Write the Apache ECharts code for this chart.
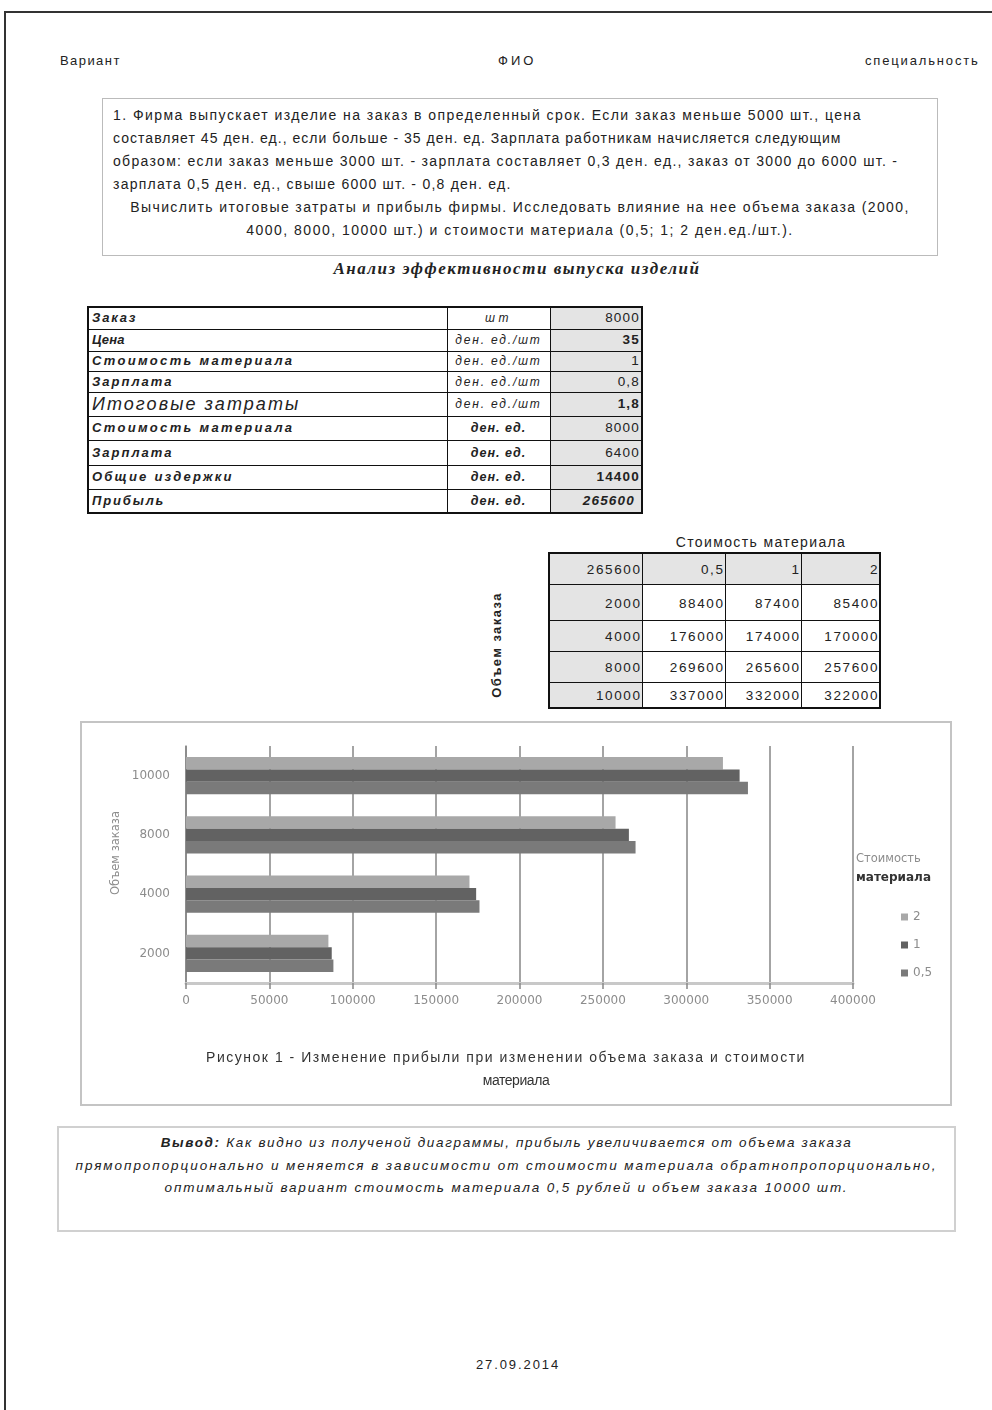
<!DOCTYPE html>
<html>
<head>
<meta charset="utf-8">
<script src="https://cdn.jsdelivr.net/npm/echarts@6/dist/echarts.min.js"></script>
<style>
  html,body{margin:0;padding:0;background:#fff;}
  body{width:992px;height:1410px;position:relative;overflow:hidden;font-family:"Liberation Sans",Arial,sans-serif;color:#222;}
  .t{position:absolute;white-space:nowrap;line-height:16px;}
  .f{display:inline-block;white-space:nowrap;}
  .box{position:absolute;box-sizing:border-box;}
  table{border-collapse:collapse;position:absolute;table-layout:fixed;}
  td{border:1.5px solid #111;padding:0 3px 0 3px;vertical-align:middle;white-space:nowrap;overflow:hidden;font-size:13px;line-height:14px;}
  #t1 td.l{font-weight:bold;font-style:italic;text-align:left;}
  #t1 td.u{font-style:italic;text-align:center;font-size:12px;}
  #t1 td.v{background:#e4e4e4;text-align:right;font-size:13.5px;letter-spacing:1.2px;padding-right:1px;}
  #t2 td{text-align:right;font-size:13.5px;letter-spacing:1.6px;padding:3px 0 0 0;}
  #t2 td.g{background:#e4e4e4;}
</style>
</head>
<body>
<div class="box" style="left:4px;top:11px;width:988px;height:2px;background:#333;"></div>
<div class="box" style="left:4px;top:11px;width:2px;height:1399px;background:#333;"></div>

<div class="t" style="left:60px;top:53px;font-size:13px;"><span class="f" data-w="61">Вариант</span></div>
<div class="t" style="left:498px;top:53px;font-size:13px;"><span class="f" data-w="38">ФИО</span></div>
<div class="t" style="left:865px;top:53px;font-size:13px;"><span class="f" data-w="115">специальность</span></div>

<div class="box" style="left:102px;top:98px;width:836px;height:158px;border:1px solid #bbb;"></div>
<div id="task"></div>

<div class="t" style="left:0;width:1034px;text-align:center;top:259px;font-family:'Liberation Serif',serif;font-style:italic;font-weight:bold;font-size:17px;line-height:19px;"><span class="f" data-w="367">Анализ эффективности выпуска изделий</span></div>

<table id="t1" style="left:87px;top:306px;width:554px;border:2px solid #111;"></table>

<div class="t" style="left:661px;width:200px;text-align:center;top:534px;font-size:14px;"><span class="f" data-w="170">Стоимость материала</span></div>
<table id="t2" style="left:548px;top:552px;width:331px;border:2px solid #111;"></table>
<div class="t" style="left:437px;top:637px;width:120px;text-align:center;font-size:13px;font-weight:bold;transform:rotate(-90deg);"><span class="f" data-w="106">Объем заказа</span></div>

<div id="chart" style="position:absolute;left:80px;top:721px;width:872px;height:385px;"></div>
<div class="box" style="left:80px;top:721px;width:872px;height:385px;border:2px solid #c4c4c4;pointer-events:none;"></div>
<div id="caption"></div>

<div class="box" style="left:57px;top:1126px;width:899px;height:106px;border:2px solid #d0d0d0;"></div>
<div id="concl"></div>

<div class="t" style="left:0;width:1036px;text-align:center;top:1357px;font-size:13px;"><span class="f" data-w="84">27.09.2014</span></div>

<script>
// ---- data ----
var orderVolumes = ['2000', '4000', '8000', '10000'];
var materialCosts = ['0,5', '1', '2'];
var profit05 = [88400, 176000, 269600, 337000];
var profit1  = [87400, 174000, 265600, 332000];
var profit2  = [85400, 170000, 257600, 322000];
var xTicks = [0, 50000, 100000, 150000, 200000, 250000, 300000, 350000, 400000];

var t1Labels = ['Заказ', 'Цена', 'Стоимость материала', 'Зарплата', 'Итоговые затраты', 'Стоимость материала', 'Зарплата', 'Общие издержки', 'Прибыль'];
var t1Units  = ['шт', 'ден. ед./шт', 'ден. ед./шт', 'ден. ед./шт', 'ден. ед./шт', 'ден. ед.', 'ден. ед.', 'ден. ед.', 'ден. ед.'];
var t1Values = ['8000', '35', '1', '0,8', '1,8', '8000', '6400', '14400', '265600'];
var t2Corner = '265600';

var taskLines = [
  '1. Фирма выпускает изделие на заказ в определенный срок. Если заказ меньше 5000 шт., цена',
  'составляет 45 ден. ед., если больше - 35 ден. ед. Зарплата работникам начисляется следующим',
  'образом: если заказ меньше 3000 шт. - зарплата составляет 0,3 ден. ед., заказ от 3000 до 6000 шт. -',
  'зарплата 0,5 ден. ед., свыше 6000 шт. - 0,8 ден. ед.',
  'Вычислить итоговые затраты и прибыль фирмы. Исследовать влияние на нее объема заказа (2000,',
  '4000, 8000, 10000 шт.) и стоимости материала (0,5; 1; 2 ден.ед./шт.).'
];
var conclLines = [
  '<b>Вывод:</b> Как видно из полученой диаграммы, прибыль увеличивается от объема заказа',
  'прямопропорционально и меняется в зависимости от стоимости материала обратнопропорционально,',
  'оптимальный вариант стоимость материала 0,5 рублей и объем заказа 10000 шт.'
];
var captionLines = [
  'Рисунок 1 -  Изменение прибыли при изменении объема заказа  и стоимости',
  'материала'
];

// ---- document text ----
(function(){
  var taskW = [749, 729, 785, 399, 779, 547];
  var h = '';
  taskLines.forEach(function(s, i){
    var top = 107 + i * 23;
    if (i < 4) h += '<div class="t" style="left:113px;top:' + top + 'px;font-size:14px;"><span class="f" data-w="' + taskW[i] + '">' + s + '</span></div>';
    else h += '<div class="t" style="left:102px;width:836px;text-align:center;top:' + top + 'px;font-size:14px;"><span class="f" data-w="' + taskW[i] + '">' + s + '</span></div>';
  });
  document.getElementById('task').innerHTML = h;

  var concW = [692, 862, 684];
  var c = '';
  conclLines.forEach(function(s, i){
    var top = 1135 + i * 22.5;
    c += '<div class="t" style="left:57px;width:899px;text-align:center;top:' + top + 'px;font-size:13.5px;font-style:italic;"><span class="f" data-w="' + concW[i] + '">' + s + '</span></div>';
  });
  document.getElementById('concl').innerHTML = c;

  var capW = [603, 67];
  var capX = [80, 90];
  var cp = '';
  captionLines.forEach(function(s, i){
    cp += '<div class="t" style="left:' + capX[i] + 'px;width:852px;text-align:center;top:' + (1049 + i * 23) + 'px;font-size:14px;color:#333;"><span class="f" data-w="' + capW[i] + '">' + s + '</span></div>';
  });
  document.getElementById('caption').innerHTML = cp;

  var labW = [45, 33, 202, 82, 208, 202, 82, 142, 73];
  var rh = [22, 22, 20, 21, 24, 24, 25, 24, 24];
  var boldV = {1:1, 4:1, 7:1, 8:1};
  var r = '<colgroup><col style="width:359px"><col style="width:103px"><col style="width:92px"></colgroup>';
  t1Labels.forEach(function(lab, i){
    var ls = (i === 4) ? 'font-weight:normal;font-size:18px;line-height:19px;' : '';
    var us = (i >= 5) ? 'font-weight:bold;font-size:12.5px;' : '';
    var uw = (i === 0) ? 27 : (i < 5 ? 86 : 55);
    var vs = boldV[i] ? 'font-weight:bold;' : '';
    if (i === 8) vs += 'font-style:italic;padding-right:6px;';
    r += '<tr style="height:' + rh[i] + 'px"><td class="l" style="' + ls + '"><span class="f" data-w="' + labW[i] + '">' + lab + '</span></td>' +
         '<td class="u" style="' + us + '"><span class="f" data-w="' + uw + '">' + t1Units[i] + '</span></td>' +
         '<td class="v" style="' + vs + '">' + t1Values[i] + '</td></tr>';
  });
  document.getElementById('t1').innerHTML = r;

  var rh2 = [31, 36, 31, 31, 26];
  var t = '<colgroup><col style="width:93px"><col style="width:83px"><col style="width:76px"><col style="width:79px"></colgroup>';
  t += '<tr style="height:' + rh2[0] + 'px"><td class="g">' + t2Corner + '</td>';
  materialCosts.forEach(function(m){ t += '<td class="g">' + m + '</td>'; });
  t += '</tr>';
  orderVolumes.forEach(function(v, i){
    t += '<tr style="height:' + rh2[i + 1] + 'px"><td class="g">' + v + '</td><td>' + profit05[i] + '</td><td>' + profit1[i] + '</td><td>' + profit2[i] + '</td></tr>';
  });
  document.getElementById('t2').innerHTML = t;

  // stretch text to the widths it has on the page
  document.querySelectorAll('[data-w]').forEach(function(el){
    el.style.letterSpacing = '0px';
    var w = el.offsetWidth;
    var n = el.textContent.length;
    var target = +el.getAttribute('data-w');
    el.style.letterSpacing = ((target - w) / Math.max(1, n)).toFixed(3) + 'px';
  });
})();

// ---- chart ----
var chart = echarts.init(document.getElementById('chart'), null, {renderer: 'canvas'});
var font = '"DejaVu Sans", "Liberation Sans", sans-serif';
var option = {
  animation: false,
  textStyle: {fontFamily: font},
  grid: {left: 106, top: 25, width: 667, height: 237, containLabel: false},
  xAxis: {
    type: 'value', min: xTicks[0], max: xTicks[xTicks.length - 1], interval: xTicks[1] - xTicks[0],
    axisLine: {show: true, lineStyle: {color: '#c8c8c8', width: 3}},
    axisTick: {show: true, length: 6, lineStyle: {color: '#868686', width: 1.5}},
    axisLabel: {color: '#8c8c8c', fontSize: 12, margin: 12, fontFamily: font, formatter: function(v){ return String(v); }},
    splitLine: {show: true, lineStyle: {color: '#868686', width: 1.5}}
  },
  yAxis: {
    type: 'category', data: orderVolumes,
    axisLine: {show: true, lineStyle: {color: '#868686', width: 1.5}},
    axisTick: {show: false},
    axisLabel: {color: '#8c8c8c', fontSize: 12, margin: 16, fontFamily: font}
  },
  legend: {
    orient: 'vertical', left: 816, top: 185, itemWidth: 7, itemHeight: 7, itemGap: 16,
    icon: 'rect', data: ['2', '1', '0,5'],
    textStyle: {color: '#8c8c8c', fontSize: 12, fontFamily: font}
  },
  series: [
    {name: '2', type: 'bar', data: profit2, barGap: '0%', barCategoryGap: '37%', itemStyle: {color: '#a8a8a8'}},
    {name: '1', type: 'bar', data: profit1, barGap: '0%', barCategoryGap: '37%', itemStyle: {color: '#626262'}},
    {name: '0,5', type: 'bar', data: profit05, barGap: '0%', barCategoryGap: '37%', itemStyle: {color: '#7a7a7a'}}
  ],
  graphic: [
    {type: 'text', x: 36, y: 853, rotation: Math.PI / 2, style: {text: 'Объем заказа', fill: '#8c8c8c', font: '11.5px ' + font, textAlign: 'center', textVerticalAlign: 'middle'}},
    {type: 'text', left: 776, top: 132, style: {text: 'Стоимость', fill: '#8c8c8c', font: '11.5px ' + font}},
    {type: 'text', left: 776, top: 151, style: {text: 'материала', fill: '#333', font: 'bold 12px ' + font}}
  ]
};
option.graphic[0].y = 853 - 721;
chart.setOption(option);
</script>
</body>
</html>
